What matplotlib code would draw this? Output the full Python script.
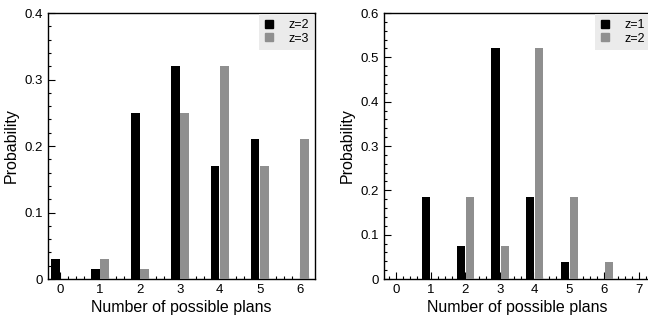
import numpy as np
import matplotlib
matplotlib.use("Agg")
import matplotlib.pyplot as plt
from matplotlib.lines import Line2D
from matplotlib.ticker import MultipleLocator, AutoMinorLocator

plt.rcParams['font.family'] = ['Liberation Sans', 'DejaVu Sans']

# left panel: z=2 vs z=3
leftPlans = [0, 1, 2, 3, 4, 5, 6]
leftZ2 = [0.03, 0.015, 0.25, 0.32, 0.17, 0.21, 0.0]
leftZ3 = [0.0, 0.03, 0.015, 0.25, 0.32, 0.17, 0.21]
leftLabels = ['z=2', 'z=3']

# right panel: z=1 vs z=2
rightPlans = [0, 1, 2, 3, 4, 5, 6, 7]
rightZ1 = [0.0, 0.186, 0.075, 0.52, 0.186, 0.038, 0.0, 0.0]
rightZ2 = [0.0, 0.0, 0.186, 0.075, 0.52, 0.186, 0.038, 0.0]
rightLabels = ['z=1', 'z=2']

BLACK = '#000000'
GRAY = '#8f8f8f'


def drawPanel(ax, plans, first, second, labels, barWidth, xlim, ylim, yStep):
    x = np.array(plans)
    ax.bar(x - barWidth / 2 - 0.01, first, width=barWidth, color=BLACK, zorder=3)
    ax.bar(x + barWidth / 2 + 0.01, second, width=barWidth, color=GRAY, zorder=3)

    ax.set_xlim(*xlim)
    ax.set_ylim(*ylim)
    ax.set_xticks(plans)
    ax.yaxis.set_major_locator(MultipleLocator(yStep))
    ax.xaxis.set_minor_locator(AutoMinorLocator(5))
    ax.yaxis.set_minor_locator(AutoMinorLocator(5))
    ax.yaxis.set_major_formatter(plt.FuncFormatter(lambda v, p: '0' if v == 0 else '%g' % v))
    ax.tick_params(which='major', direction='in', length=5, width=0.8, labelsize=9.5)
    ax.tick_params(which='minor', direction='in', length=2.5, width=0.8)
    for s in ax.spines.values():
        s.set_linewidth(1.0)

    ax.set_xlabel('Number of possible plans', fontsize=11.5, labelpad=3)
    ax.set_ylabel('Probability', fontsize=11.5, labelpad=4)

    handles = [Line2D([], [], marker='s', linestyle='none', color=BLACK, markersize=5.5),
               Line2D([], [], marker='s', linestyle='none', color=GRAY, markersize=5.5)]
    leg = ax.legend(handles, labels, loc='upper right', fontsize=9,
                    borderaxespad=0.1, handletextpad=1.1, fancybox=False,
                    framealpha=1, borderpad=0.4, labelspacing=0.12, handlelength=0.8)
    leg.get_frame().set_facecolor('#ebebeb')
    leg.get_frame().set_edgecolor('none')


fig = plt.figure(figsize=(6.48, 3.21), dpi=100)
axLeft = fig.add_axes([0.0741, 0.1308, 0.412, 0.8287])
axRight = fig.add_axes([0.5926, 0.1308, 0.412, 0.8287])

drawPanel(axLeft, leftPlans, leftZ2, leftZ3, leftLabels, 0.21, (-0.3, 6.38), (0, 0.4), 0.1)
drawPanel(axRight, rightPlans, rightZ1, rightZ2, rightLabels, 0.24, (-0.35, 7.35), (0, 0.6), 0.1)

fig.savefig('out.png', dpi=100)
